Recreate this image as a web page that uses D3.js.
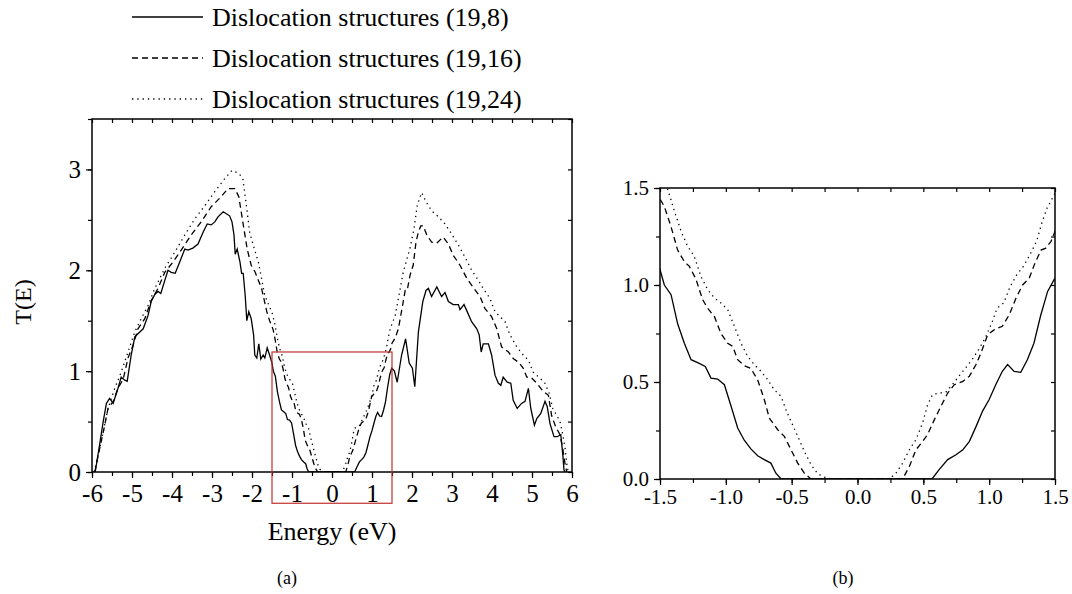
<!DOCTYPE html>
<html>
<head>
<meta charset="utf-8">
<script src="https://cdn.jsdelivr.net/npm/d3@7"></script>
<style>
  body { margin: 0; background: #fff; }
  text { font-family: "Liberation Serif", "Times New Roman", serif; fill: #000; }
</style>
</head>
<body>
<div class="box"></div>
<script>
// données : énergie (eV) et transmission T(E)
const e198 = [-5.92,-5.81,-5.72,-5.64,-5.56,-5.47,-5.35,-5.27,-5.18,-5.12,-5.02,-4.93,-4.85,-4.72,-4.60,-4.52,-4.43,-4.35,-4.28,-4.18,-4.10,-4.02,-3.92,-3.81,-3.68,-3.60,-3.48,-3.35,-3.22,-3.12,-3.02,-2.93,-2.85,-2.72,-2.64,-2.56,-2.50,-2.45,-2.42,-2.37,-2.30,-2.26,-2.22,-2.17,-2.13,-2.08,-2.02,-1.96,-1.93,-1.88,-1.83,-1.78,-1.72,-1.68,-1.62,-1.56,
  -1.50,-1.467,-1.416,-1.366,-1.315,-1.264,-1.214,-1.156,-1.113,-1.062,-1.011,-0.96,-0.91,-0.86,-0.81,-0.758,-0.708,-0.658,-0.62,-0.58,0.566,0.62,0.685,0.748,0.80,0.85,0.90,0.95,1.0,1.05,1.10,1.14,1.19,1.24,1.29,1.34,1.39,1.444,1.495,
  1.56,1.63,1.74,1.84,1.93,2.01,2.07,2.16,2.27,2.35,2.41,2.49,2.62,2.74,2.825,2.91,3.03,3.16,3.20,3.30,3.38,3.49,3.62,3.68,3.73,3.78,3.91,3.99,4.075,4.16,4.22,4.28,4.38,4.47,4.53,4.63,4.74,4.825,4.91,4.97,5.06,5.12,5.22,5.325,5.38,5.45,5.55,5.63,5.72,5.77,5.80,5.83]
const t198 = [0,0.27,0.50,0.68,0.73,0.68,0.83,0.94,0.91,0.90,1.16,1.34,1.37,1.42,1.55,1.69,1.76,1.79,1.77,1.90,2.0,1.98,1.97,2.08,2.21,2.20,2.22,2.26,2.38,2.46,2.45,2.48,2.53,2.58,2.56,2.54,2.48,2.35,2.16,2.21,2.08,1.97,1.97,1.75,1.50,1.59,1.52,1.36,1.16,1.13,1.27,1.12,1.16,1.13,1.23,1.16,
  1.08,1.00,0.95,0.80,0.70,0.615,0.60,0.58,0.52,0.515,0.486,0.375,0.263,0.20,0.155,0.12,0.10,0.082,0.03,0,0,0.048,0.10,0.125,0.15,0.194,0.27,0.35,0.41,0.486,0.555,0.59,0.555,0.55,0.615,0.70,0.84,0.967,1.03,
  1.00,0.89,1.16,1.32,1.08,1.03,0.845,1.39,1.69,1.80,1.82,1.74,1.835,1.74,1.78,1.69,1.66,1.66,1.61,1.66,1.59,1.49,1.42,1.36,1.19,1.27,1.27,1.16,0.96,0.88,0.86,0.94,0.89,0.88,0.71,0.63,0.68,0.70,0.83,0.63,0.465,0.53,0.58,0.70,0.65,0.48,0.35,0.35,0.37,0.17,0.02,0]

const e1916 = [-5.95,-5.92,-5.81,-5.70,-5.60,-5.47,-5.35,-5.22,-5.10,-4.97,-4.85,-4.68,-4.52,-4.35,-4.18,-3.98,-3.72,-3.52,-3.27,-3.02,-2.77,-2.60,-2.43,-2.33,-2.23,-2.12,-2.02,-1.92,-1.76,-1.63,-1.56,
  -1.50,-1.467,-1.416,-1.366,-1.315,-1.277,-1.227,-1.176,-1.138,-1.087,-1.037,-0.986,-0.948,-0.91,-0.86,-0.81,-0.758,-0.708,-0.67,-0.606,-0.556,-0.505,-0.454,-0.404,-0.353,0.343,0.394,0.444,0.495,0.533,0.584,0.634,0.685,0.735,0.80,0.85,0.90,0.938,0.989,1.04,1.10,1.153,1.204,1.254,1.305,1.343,1.394,1.43,1.47,1.50,
  1.58,1.66,1.75,1.83,1.88,1.95,2.03,2.10,2.16,2.22,2.28,2.37,2.49,2.62,2.78,2.91,3.03,3.20,3.37,3.53,3.70,3.825,3.99,4.12,4.24,4.41,4.53,4.66,4.78,4.87,4.97,5.12,5.28,5.41,5.49,5.59,5.70,5.77,5.83,5.87]
const t1916 = [0,0.02,0.23,0.43,0.63,0.70,0.83,0.92,1.13,1.26,1.42,1.52,1.70,1.82,1.98,2.08,2.23,2.35,2.48,2.63,2.73,2.81,2.81,2.73,2.48,2.21,2.05,1.98,1.82,1.59,1.50,
  1.443,1.405,1.30,1.18,1.12,1.096,1.03,0.924,0.88,0.838,0.75,0.70,0.684,0.615,0.584,0.57,0.51,0.41,0.314,0.254,0.22,0.151,0.082,0.03,0,0,0.065,0.151,0.194,0.23,0.306,0.375,0.443,0.486,0.503,0.53,0.59,0.65,0.744,0.77,0.787,0.847,0.933,1.00,1.036,1.105,1.18,1.19,1.225,1.277,
  1.33,1.42,1.62,1.80,1.80,1.95,2.05,2.28,2.38,2.44,2.44,2.35,2.28,2.27,2.33,2.26,2.15,2.05,1.92,1.83,1.74,1.62,1.54,1.42,1.24,1.19,1.125,1.09,1.03,0.94,0.94,0.88,0.80,0.76,0.56,0.45,0.37,0.23,0.07,0]

const e1924 = [-5.95,-5.92,-5.77,-5.60,-5.43,-5.27,-5.10,-4.93,-4.77,-4.60,-4.43,-4.18,-3.93,-3.68,-3.43,-3.18,-2.93,-2.68,-2.50,-2.33,-2.23,-2.14,-2.06,-1.97,-1.84,-1.68,
  -1.50,-1.44,-1.39,-1.34,-1.29,-1.24,-1.19,-1.138,-1.087,-1.037,-0.986,-0.935,-0.885,-0.834,-0.784,-0.733,-0.682,-0.632,-0.581,-0.543,-0.505,-0.454,-0.404,-0.353,-0.302,-0.252,-0.20,0.242,0.292,0.343,0.394,0.444,0.495,0.533,0.57,0.62,0.67,0.72,0.77,0.82,0.87,0.92,0.97,1.02,1.06,1.11,1.16,1.21,1.26,1.31,1.36,1.40,1.44,1.495,
  1.58,1.66,1.78,1.95,2.05,2.13,2.24,2.35,2.49,2.66,2.825,2.99,3.16,3.325,3.49,3.66,3.78,3.95,4.075,4.20,4.325,4.45,4.62,4.78,4.91,5.03,5.20,5.325,5.43,5.52,5.62,5.70,5.77,5.83,5.88,5.92]
const t1924 = [0,0.04,0.30,0.63,0.83,0.99,1.19,1.39,1.52,1.65,1.82,2.02,2.18,2.35,2.51,2.64,2.78,2.91,2.99,2.96,2.91,2.64,2.38,2.25,2.08,1.75,
  1.58,1.49,1.38,1.277,1.20,1.148,1.045,0.976,0.933,0.907,0.873,0.787,0.70,0.632,0.59,0.555,0.512,0.46,0.426,0.357,0.297,0.22,0.143,0.074,0.027,0.01,0,0,0.03,0.082,0.151,0.203,0.29,0.383,0.435,0.443,0.447,0.486,0.53,0.572,0.615,0.667,0.727,0.804,0.88,0.907,0.993,1.053,1.096,1.156,1.225,1.32,1.397,1.466,
  1.55,1.72,1.98,2.22,2.41,2.64,2.77,2.68,2.59,2.53,2.46,2.36,2.25,2.13,2.0,1.90,1.82,1.72,1.59,1.54,1.49,1.36,1.24,1.16,1.11,0.99,0.93,0.88,0.78,0.63,0.56,0.50,0.37,0.23,0.04,0]

const seriesNames = ['Dislocation structures (19,8)', 'Dislocation structures (19,16)', 'Dislocation structures (19,24)']
const ticksAX = [-6,-5,-4,-3,-2,-1,0,1,2,3,4,5,6]
const ticksAY = [0,1,2,3]
const ticksBX = [-1.5,-1.0,-0.5,0.0,0.5,1.0,1.5]
const ticksBY = [0.0,0.5,1.0,1.5]
const zoomBox = {e: [-1.5, 1.5], t: [-0.31, 1.19]}

const series = [
  {name: seriesNames[0], data: e198.map((e, i) => [e, t198[i]]), dash: null},
  {name: seriesNames[1], data: e1916.map((e, i) => [e, t1916[i]]), dash: '6,4'},
  {name: seriesNames[2], data: e1924.map((e, i) => [e, t1924[i]]), dash: '1.3,4'}
]

const svg = d3.select('.box')
  .append('svg')
  .attr('width', 1072)
  .attr('height', 594)
  .style('background-color', '#fff')

// panneau (a)
const xA = d3.scaleLinear().domain([-6, 6]).range([92, 572])
const yA = d3.scaleLinear().domain([0, 3.5]).range([472, 119])
// panneau (b)
const xB = d3.scaleLinear().domain([-1.5, 1.5]).range([660, 1055])
const yB = d3.scaleLinear().domain([0, 1.5]).range([479, 188])

function frame(x, y, xt, yt, xMinor, yMinor, fmt, fs, pad) {
  const g = svg.append('g').attr('class', 'axes')
  const x0 = x.range()[0], x1 = x.range()[1], y0 = y.range()[0], y1 = y.range()[1]
  // axe du bas : graduations vers l'extérieur
  g.append('g').attr('transform', `translate(0,${y0})`)
    .call(d3.axisBottom(x).tickValues(xMinor).tickSize(4).tickFormat(''))
  g.append('g').attr('transform', `translate(0,${y0})`)
    .call(d3.axisBottom(x).tickValues(xt).tickSize(6).tickPadding(pad).tickFormat(fmt))
    .style('font-size', fs + 'px')
  g.append('g').attr('transform', `translate(${x0},0)`)
    .call(d3.axisLeft(y).tickValues(yMinor).tickSize(4).tickFormat(''))
  g.append('g').attr('transform', `translate(${x0},0)`)
    .call(d3.axisLeft(y).tickValues(yt).tickSize(6).tickPadding(5).tickFormat(fmt))
    .style('font-size', fs + 'px')
  // haut et droite : graduations vers l'intérieur
  g.append('g').attr('transform', `translate(0,${y1})`)
    .call(d3.axisTop(x).tickValues(xMinor).tickSize(-4).tickFormat(''))
  g.append('g').attr('transform', `translate(${x1},0)`)
    .call(d3.axisRight(y).tickValues(yMinor).tickSize(-4).tickFormat(''))
  g.selectAll('text').style('font-family', '"Liberation Serif", serif').attr('fill', '#000')
  g.selectAll('line').attr('stroke', '#000').attr('stroke-width', 1.2)
  g.selectAll('.domain').remove()
  g.append('rect')
    .attr('x', x0).attr('y', y1)
    .attr('width', x1 - x0).attr('height', y0 - y1)
    .attr('fill', 'none').attr('stroke', '#000').attr('stroke-width', 1.5)
}

function curves(x, y, id) {
  svg.append('clipPath').attr('id', id)
    .append('rect')
    .attr('x', x.range()[0]).attr('y', y.range()[1])
    .attr('width', x.range()[1] - x.range()[0])
    .attr('height', y.range()[0] - y.range()[1])
  const line = d3.line().x(d => x(d[0])).y(d => y(d[1]))
  svg.append('g').attr('clip-path', `url(#${id})`)
    .selectAll('path')
    .data(series)
    .enter()
    .append('path')
    .attr('d', d => line(d.data))
    .attr('fill', 'none')
    .attr('stroke', '#000')
    .attr('stroke-width', 1.3)
    .attr('stroke-dasharray', d => d.dash)
}

curves(xA, yA, 'clipA')
curves(xB, yB, 'clipB')

const minorA = d3.range(-6, 6.01, 0.5)
const minorAY = d3.range(0, 3.51, 0.5)
frame(xA, yA, ticksAX, ticksAY, minorA, minorAY, d => String(d), 25, 6)
frame(xB, yB, ticksBX, ticksBY, d3.range(-1.5, 1.51, 0.25), d3.range(0, 1.51, 0.25), d => d.toFixed(1), 21, 4)

// cadre rouge de la zone agrandie
svg.append('rect')
  .attr('x', xA(zoomBox.e[0])).attr('y', yA(zoomBox.t[1]))
  .attr('width', xA(zoomBox.e[1]) - xA(zoomBox.e[0]))
  .attr('height', yA(zoomBox.t[0]) - yA(zoomBox.t[1]))
  .attr('fill', 'none').attr('stroke', '#c0302c').attr('stroke-width', 1.2)

// titres des axes
svg.append('text').attr('x', 332).attr('y', 540)
  .attr('text-anchor', 'middle').style('font-size', '26px')
  .text('Energy (eV)')
svg.append('text')
  .attr('transform', 'translate(31,302) rotate(-90)')
  .attr('text-anchor', 'middle').style('font-size', '24px')
  .text('T(E)')
svg.append('text').attr('x', 287).attr('y', 584)
  .attr('text-anchor', 'middle').style('font-size', '18px').text('(a)')
svg.append('text').attr('x', 843).attr('y', 584)
  .attr('text-anchor', 'middle').style('font-size', '18px').text('(b)')

// légende
const legend = svg.append('g')
series.forEach((s, i) => {
  const ly = 17 + i * 41
  legend.append('line')
    .attr('x1', 132).attr('x2', 203).attr('y1', ly).attr('y2', ly)
    .attr('stroke', '#000').attr('stroke-width', 1.3)
    .attr('stroke-dasharray', s.dash)
  legend.append('text')
    .attr('x', 212).attr('y', ly + 9)
    .style('font-size', '26px')
    .text(s.name)
})
</script>
</body>
</html>
